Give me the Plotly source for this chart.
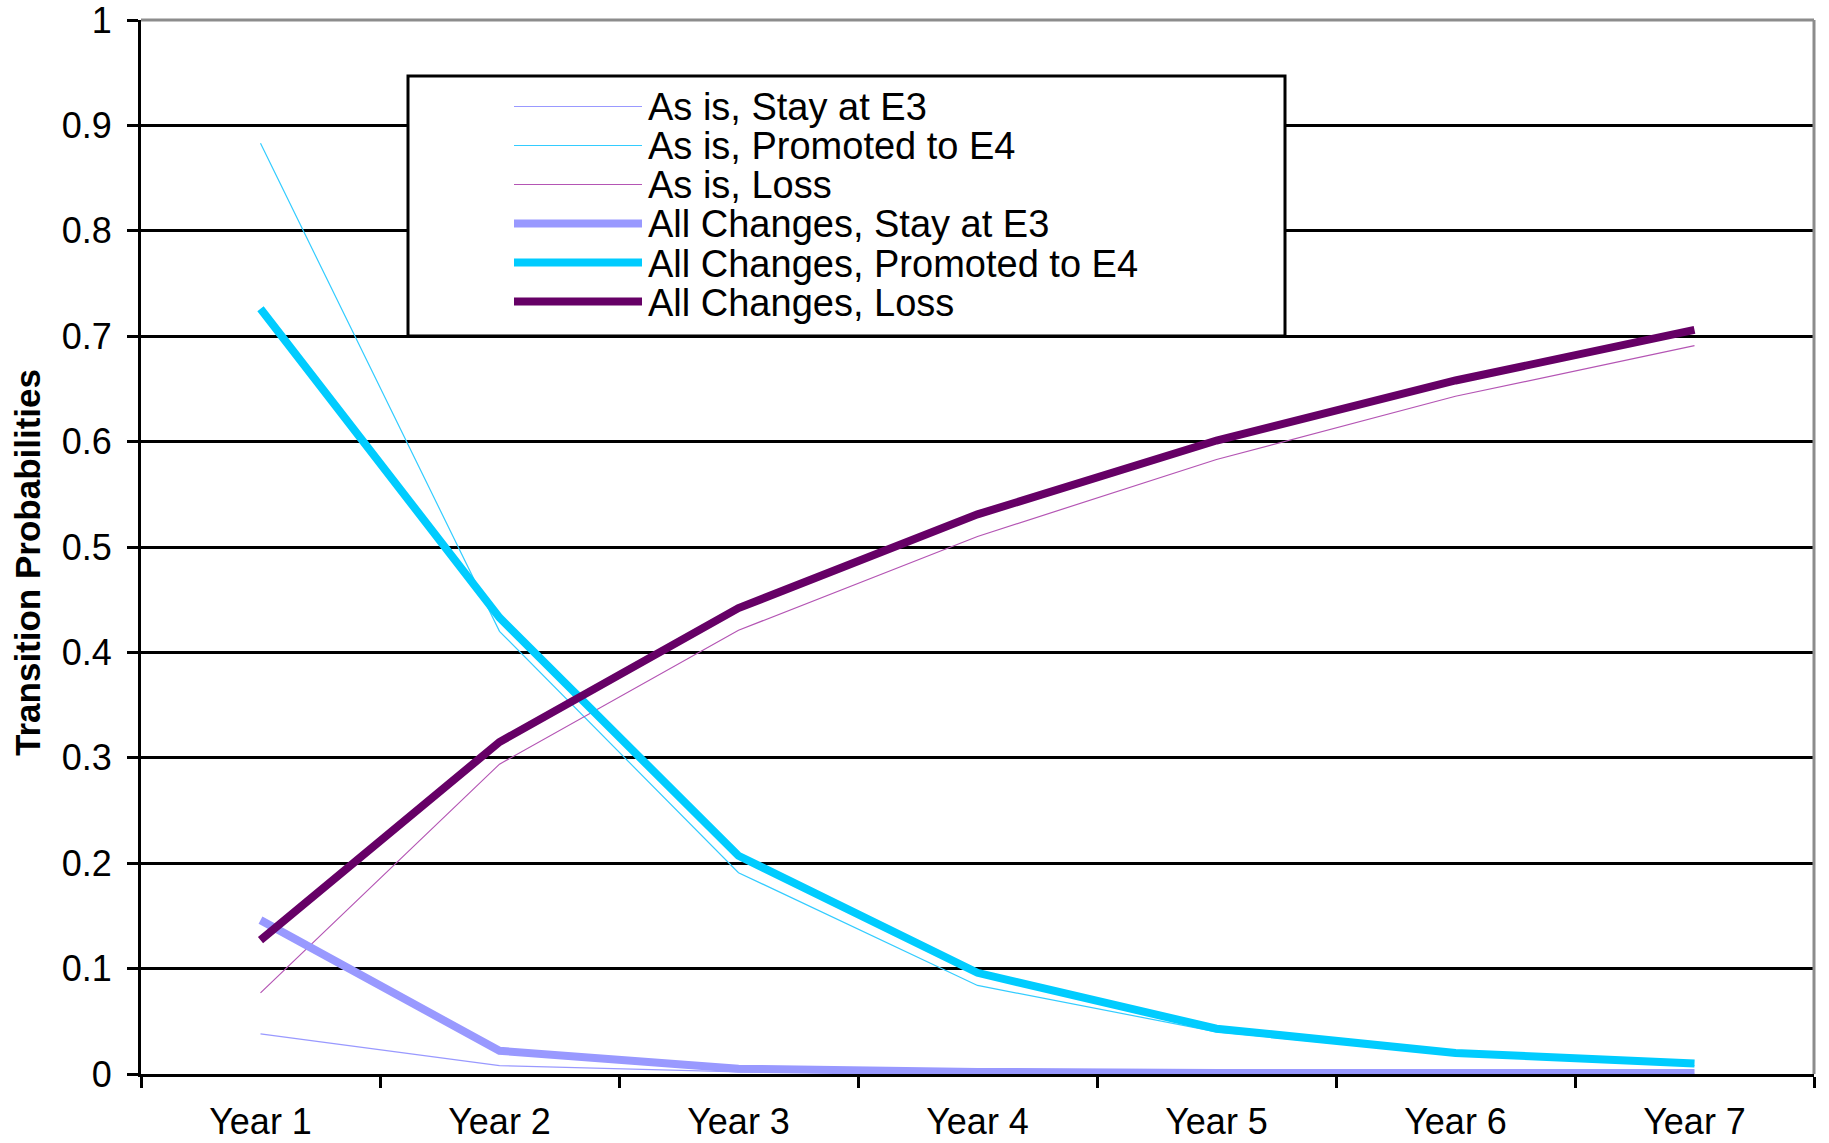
import plotly.graph_objects as go

# Transition probabilities for E3 personnel over seven years
years = ["Year 1", "Year 2", "Year 3", "Year 4", "Year 5", "Year 6", "Year 7"]

as_is_stay = [0.038, 0.008, 0.002, 0.0005, 0.0002, 0.0001, 0.0]
as_is_promoted = [0.883, 0.420, 0.191, 0.084, 0.040, 0.018, 0.008]
as_is_loss = [0.077, 0.294, 0.421, 0.510, 0.583, 0.643, 0.691]

all_stay = [0.146, 0.022, 0.005, 0.002, 0.001, 0.001, 0.001]
all_promoted = [0.726, 0.433, 0.207, 0.096, 0.043, 0.020, 0.010]
all_loss = [0.127, 0.315, 0.442, 0.531, 0.601, 0.658, 0.706]

y_tick_vals = [0, 0.1, 0.2, 0.3, 0.4, 0.5, 0.6, 0.7, 0.8, 0.9, 1]
y_tick_text = ["0", "0.1", "0.2", "0.3", "0.4", "0.5", "0.6", "0.7", "0.8", "0.9", "1"]

series = [
    ("As is, Stay at E3", as_is_stay, "#9999FF", 1.2),
    ("As is, Promoted to E4", as_is_promoted, "#33CCFF", 1.2),
    ("As is, Loss", as_is_loss, "#B455B4", 1.2),
    ("All Changes, Stay at E3", all_stay, "#9999FF", 8),
    ("All Changes, Promoted to E4", all_promoted, "#00CCFF", 8),
    ("All Changes, Loss", all_loss, "#660066", 8),
]

W, H = 1829, 1143
ML, MR, MT, MB = 141, 15, 20, 69
PW, PH = W - ML - MR, H - MT - MB


def px_x(x):
    return (x - ML) / PW


def px_y(y):
    return (H - MB - y) / PH


FONT = "Liberation Sans, Arial, sans-serif"

fig = go.Figure()
for name, vals, color, width in series:
    fig.add_trace(go.Scatter(
        x=years, y=vals, mode="lines", name=name,
        line=dict(color=color, width=width),
        showlegend=False,
    ))

shapes = []
annotations = []

# Grey frame along the top and right of the plot area
shapes.append(dict(type="line", xref="paper", yref="paper", x0=0, x1=1, y0=1, y1=1,
                   line=dict(color="#8c8c8c", width=3), layer="above"))
shapes.append(dict(type="line", xref="paper", yref="paper", x0=1, x1=1, y0=0, y1=1,
                   line=dict(color="#8c8c8c", width=3), layer="above"))

# Legend box
shapes.append(dict(type="rect", xref="paper", yref="paper",
                   x0=px_x(408), x1=px_x(1285), y0=px_y(336), y1=px_y(76),
                   line=dict(color="black", width=3), fillcolor="white", layer="above"))

row_y = [106.5, 145.5, 184.5, 223.5, 262.5, 301.5]
for (name, vals, color, width), ry in zip(series, row_y):
    shapes.append(dict(type="line", xref="paper", yref="paper",
                       x0=px_x(514), x1=px_x(642), y0=px_y(ry), y1=px_y(ry),
                       line=dict(color=color, width=width), layer="above"))
    annotations.append(dict(xref="paper", yref="paper", x=px_x(647), y=px_y(ry + 1),
                            xanchor="left", yanchor="middle", showarrow=False,
                            borderpad=0,
                            text=name, font=dict(family=FONT, size=38, color="black")))

# Y axis title
annotations.append(dict(xref="paper", yref="paper", x=px_x(27), y=px_y(563),
                        xanchor="center", yanchor="middle", showarrow=False, textangle=-90,
                        text="<b>Transition Probabilities</b>",
                        font=dict(family=FONT, size=35, color="black")))

fig.update_layout(
    width=W, height=H,
    margin=dict(l=ML, r=MR, t=MT, b=MB, pad=0, autoexpand=False),
    paper_bgcolor="white", plot_bgcolor="white",
    font=dict(family=FONT, color="black"),
    shapes=shapes, annotations=annotations,
    showlegend=False,
)

fig.update_xaxes(
    type="category", range=[-0.5, 6.5], tickson="boundaries",
    ticks="outside", ticklen=11, tickwidth=3, tickcolor="black",
    showline=True, linecolor="black", linewidth=3,
    showgrid=False, zeroline=False, automargin=False,
    tickfont=dict(family=FONT, size=36, color="black"),
    ticklabelstandoff=14, ticklabeloverflow="allow",
)
fig.update_yaxes(
    range=[0, 1], tickmode="array", tickvals=y_tick_vals, ticktext=y_tick_text,
    ticks="outside", ticklen=11, tickwidth=3, tickcolor="black",
    showline=True, linecolor="black", linewidth=3,
    showgrid=True, gridcolor="black", gridwidth=2.5,
    zeroline=False, automargin=False,
    tickfont=dict(family=FONT, size=36, color="black"),
    ticklabelstandoff=8, ticklabeloverflow="allow",
)

fig.write_html("out.html")
